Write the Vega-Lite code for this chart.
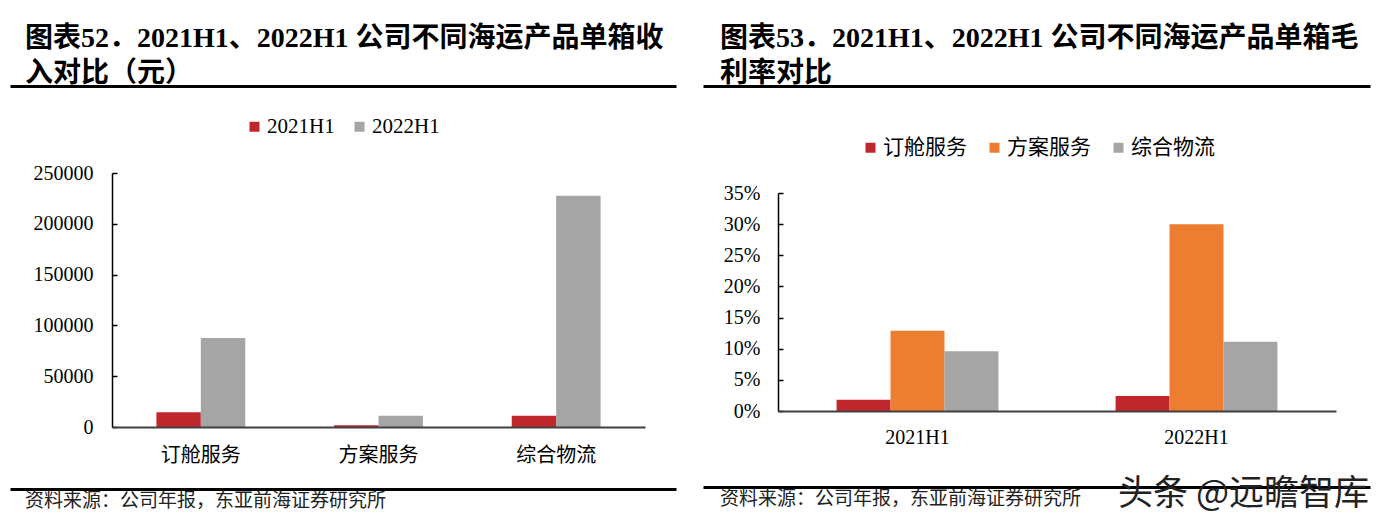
{
  "$schema": "https://vega.github.io/schema/vega-lite/v6.json",
  "background": "white",
  "padding": {"left": 10, "top": 25, "right": 5, "bottom": 5},
  "datasets": {
    "revenue": [
      {"product": "订舱服务", "period": "2021H1", "value": 14500},
      {"product": "订舱服务", "period": "2022H1", "value": 87600},
      {"product": "方案服务", "period": "2021H1", "value": 1800},
      {"product": "方案服务", "period": "2022H1", "value": 11000},
      {"product": "综合物流", "period": "2021H1", "value": 11000},
      {"product": "综合物流", "period": "2022H1", "value": 227500}
    ],
    "margin": [
      {"period": "2021H1", "product": "订舱服务", "margin": 0.018},
      {"period": "2021H1", "product": "方案服务", "margin": 0.129},
      {"period": "2021H1", "product": "综合物流", "margin": 0.096},
      {"period": "2022H1", "product": "订舱服务", "margin": 0.024},
      {"period": "2022H1", "product": "方案服务", "margin": 0.300},
      {"period": "2022H1", "product": "综合物流", "margin": 0.111}
    ],
    "blank": [{"v": 0}]
  },
  "config": {
    "view": {"stroke": null},
    "font": "Liberation Serif, Noto Sans CJK SC",
    "axis": {
      "grid": false,
      "title": null,
      "labelColor": "#000",
      "labelFont": "Liberation Serif, Noto Sans CJK SC",
      "labelFontSize": 20
    },
    "legend": {
      "title": null,
      "direction": "horizontal",
      "symbolType": "square",
      "symbolSize": 100,
      "symbolStrokeWidth": 0,
      "labelFontSize": 20,
      "labelColor": "#000",
      "labelOffset": 2,
      "padding": 0
    },
    "title": {"color": "#000"}
  },
  "resolve": {"scale": {"color": "independent", "xOffset": "independent"}},
  "spacing": -93,
  "hconcat": [
    {
      "spacing": 24,
      "vconcat": [
        {
          "width": 564,
          "height": 53,
          "title": {
            "text": ["图表52．2021H1、2022H1 公司不同海运产品单箱收", "　　入对比（元）"],
            "anchor": "start",
            "frame": "bounds",
            "dx": 15,
            "offset": -2,
            "fontSize": 28,
            "lineHeight": 35,
            "fontWeight": "bold",
            "font": "Liberation Serif, Noto Sans CJK SC"
          },
          "data": {"name": "blank"},
          "mark": {"type": "point", "size": 0, "opacity": 0},
          "encoding": {
            "x": {
              "field": "v",
              "type": "quantitative",
              "scale": {"domain": [0, 1], "range": [-102, 564]},
              "axis": {"orient": "top", "domainColor": "#000", "domainWidth": 3, "ticks": false, "labels": false}
            }
          }
        },
        {
          "width": 533,
          "height": 254,
          "data": {"name": "revenue"},
          "mark": {"type": "bar"},
          "encoding": {
            "x": {
              "field": "product",
              "type": "nominal",
              "sort": ["订舱服务", "方案服务", "综合物流"],
              "scale": {"paddingInner": 0.5, "paddingOuter": 0.25},
              "axis": {"labelAngle": 0, "ticks": false, "domainColor": "#404040", "domainWidth": 2, "labelPadding": 18, "zindex": 1}
            },
            "xOffset": {"field": "period", "type": "nominal", "sort": ["2021H1", "2022H1"]},
            "y": {
              "field": "value",
              "type": "quantitative",
              "scale": {"domain": [0, 250000]},
              "axis": {
                "values": [0, 50000, 100000, 150000, 200000, 250000],
                "format": "d",
                "tickSize": -5,
                "tickColor": "#000",
                "tickWidth": 1.5,
                "domainColor": "#000",
                "domainWidth": 1.5,
                "labelPadding": 24
              }
            },
            "color": {
              "field": "period",
              "type": "nominal",
              "scale": {"domain": ["2021H1", "2022H1"], "range": ["#C0272D", "#A5A5A5"]},
              "legend": {
                "orient": "none",
                "legendX": 132,
                "legendY": 30,
                "columnPadding": 14,
                "labelFontSize": 21,
                "labelFont": "Liberation Serif"
              }
            }
          }
        },
        {
          "width": 564,
          "height": 1,
          "title": {
            "text": "资料来源：公司年报，东亚前海证券研究所",
            "orient": "bottom",
            "anchor": "start",
            "frame": "bounds",
            "dx": 15,
            "offset": 2,
            "fontSize": 19,
            "fontWeight": "normal",
            "font": "Noto Sans CJK SC",
            "color": "#222"
          },
          "data": {"name": "blank"},
          "mark": {"type": "point", "size": 0, "opacity": 0},
          "encoding": {
            "x": {
              "field": "v",
              "type": "quantitative",
              "scale": {"domain": [0, 1], "range": [-102, 564]},
              "axis": {"orient": "top", "domainColor": "#000", "domainWidth": 3, "ticks": false, "labels": false}
            }
          }
        }
      ]
    },
    {
      "spacing": 40,
      "title": {
        "text": "头条 @远瞻智库",
        "orient": "bottom",
        "anchor": "end",
        "frame": "bounds",
        "dx": -76,
        "offset": -32,
        "fontSize": 35,
        "fontWeight": "normal",
        "font": "Noto Sans CJK SC",
        "color": "#222"
      },
      "vconcat": [
        {
          "width": 592,
          "height": 57,
          "title": {
            "text": ["图表53．2021H1、2022H1 公司不同海运产品单箱毛", "　　利率对比"],
            "anchor": "start",
            "frame": "bounds",
            "dx": 17,
            "offset": -2,
            "fontSize": 28,
            "lineHeight": 35,
            "fontWeight": "bold",
            "font": "Liberation Serif, Noto Sans CJK SC"
          },
          "data": {"name": "blank"},
          "mark": {"type": "point", "size": 0, "opacity": 0},
          "encoding": {
            "x": {
              "field": "v",
              "type": "quantitative",
              "scale": {"domain": [0, 1], "range": [-75, 592]},
              "axis": {"orient": "top", "domainColor": "#000", "domainWidth": 3, "ticks": false, "labels": false}
            }
          }
        },
        {
          "width": 558,
          "height": 218,
          "data": {"name": "margin"},
          "mark": {"type": "bar"},
          "encoding": {
            "x": {
              "field": "period",
              "type": "nominal",
              "sort": ["2021H1", "2022H1"],
              "scale": {"paddingInner": 0.42, "paddingOuter": 0.21},
              "axis": {"labelAngle": 0, "ticks": false, "domainColor": "#404040", "domainWidth": 2, "labelPadding": 16, "zindex": 1}
            },
            "xOffset": {"field": "product", "type": "nominal", "sort": ["订舱服务", "方案服务", "综合物流"]},
            "y": {
              "field": "margin",
              "type": "quantitative",
              "scale": {"domain": [0, 0.35]},
              "axis": {
                "values": [0, 0.05, 0.1, 0.15, 0.2, 0.25, 0.3, 0.35],
                "format": ".0%",
                "tickSize": -5,
                "tickColor": "#000",
                "tickWidth": 1.5,
                "domainColor": "#000",
                "domainWidth": 1.5,
                "labelPadding": 23
              }
            },
            "color": {
              "field": "product",
              "type": "nominal",
              "scale": {"domain": ["订舱服务", "方案服务", "综合物流"], "range": ["#C0272D", "#ED7D31", "#A5A5A5"]},
              "legend": {
                "orient": "none",
                "legendX": 82,
                "legendY": 51,
                "columnPadding": 17,
                "labelFontSize": 21,
                "labelFont": "Noto Sans CJK SC"
              }
            }
          }
        },
        {
          "width": 592,
          "height": 1,
          "title": {
            "text": "资料来源：公司年报，东亚前海证券研究所",
            "orient": "bottom",
            "anchor": "start",
            "frame": "bounds",
            "dx": 17,
            "offset": 2,
            "fontSize": 19,
            "fontWeight": "normal",
            "font": "Noto Sans CJK SC",
            "color": "#222"
          },
          "data": {"name": "blank"},
          "mark": {"type": "point", "size": 0, "opacity": 0},
          "encoding": {
            "x": {
              "field": "v",
              "type": "quantitative",
              "scale": {"domain": [0, 1], "range": [-75, 592]},
              "axis": {"orient": "top", "domainColor": "#000", "domainWidth": 3, "ticks": false, "labels": false}
            }
          }
        }
      ]
    }
  ]
}
